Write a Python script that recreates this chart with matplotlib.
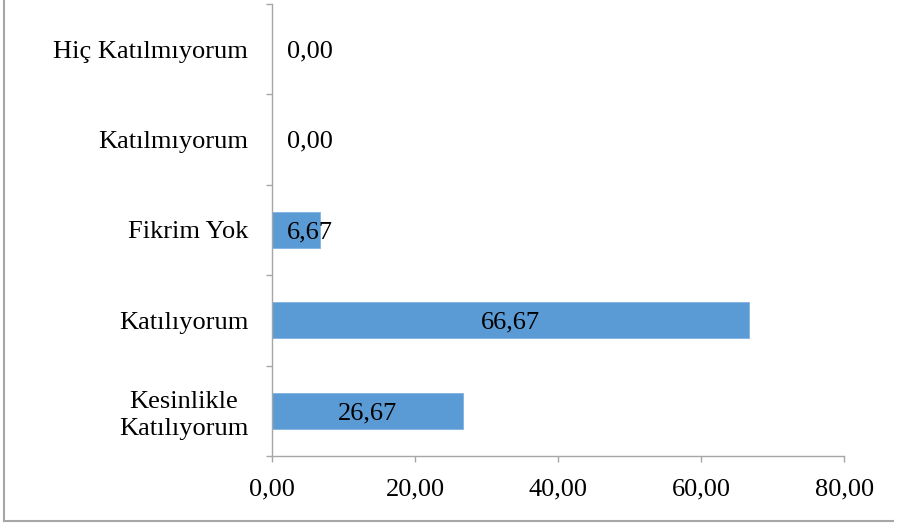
import matplotlib.pyplot as plt
from matplotlib.lines import Line2D
import numpy as np

categories = ["Kesinlikle\nKatılıyorum", "Katılıyorum", "Fikrim Yok", "Katılmıyorum", "Hiç Katılmıyorum"]
values = [26.67, 66.67, 6.67, 0.00, 0.00]
xticks = [0, 20, 40, 60, 80]

BAR_COLOR = "#5B9BD5"
GRAY = "#A6A6A6"
FS = 19

plt.rcParams["font.family"] = ["Liberation Serif", "DejaVu Serif"]

fig = plt.figure(figsize=(8.97, 5.30), dpi=100)
ax = fig.add_axes([0.3032, 0.1396, 0.941 - 0.3032, 0.9925 - 0.1396])

y = np.arange(len(categories))
ax.barh(y, values, height=0.4, color=BAR_COLOR, edgecolor="#7FB2E0", linewidth=0.6)

for yi, v in zip(y, values):
    ax.text(max(v / 2, 5.3), yi - 0.025, f"{v:.2f}".replace(".", ","),
            ha="center", va="center", fontsize=FS, color="black")

ax.set_xlim(0, 80)
ax.set_ylim(-0.5, len(categories) - 0.5)
ax.set_xticks(xticks)
ax.set_xticklabels([f"{t:.2f}".replace(".", ",") for t in xticks], fontsize=FS)
ax.set_yticks(y)
ax.set_yticklabels(categories, fontsize=FS, multialignment="center", linespacing=1.3)
ax.set_yticks(np.arange(-0.5, len(categories), 1), minor=True)

ax.tick_params(axis="y", which="major", length=0, pad=17)
ax.tick_params(axis="y", which="minor", length=4.5, width=1, color=GRAY, direction="out")
ax.tick_params(axis="x", which="major", length=4.5, width=1, color=GRAY, direction="out", pad=12)

for s in ["top", "right"]:
    ax.spines[s].set_visible(False)
for s in ["left", "bottom"]:
    ax.spines[s].set_color(GRAY)
    ax.spines[s].set_linewidth(1)

# figure border (left and bottom visible)
fig.add_artist(Line2D([4 / 897, 4 / 897], [1 - 521 / 530, 1], transform=fig.transFigure,
                      color=GRAY, linewidth=1.5))
fig.add_artist(Line2D([4 / 897, 893 / 897], [1 - 521 / 530, 1 - 521 / 530], transform=fig.transFigure,
                      color=GRAY, linewidth=1.5))

fig.savefig("out.png", dpi=100)
